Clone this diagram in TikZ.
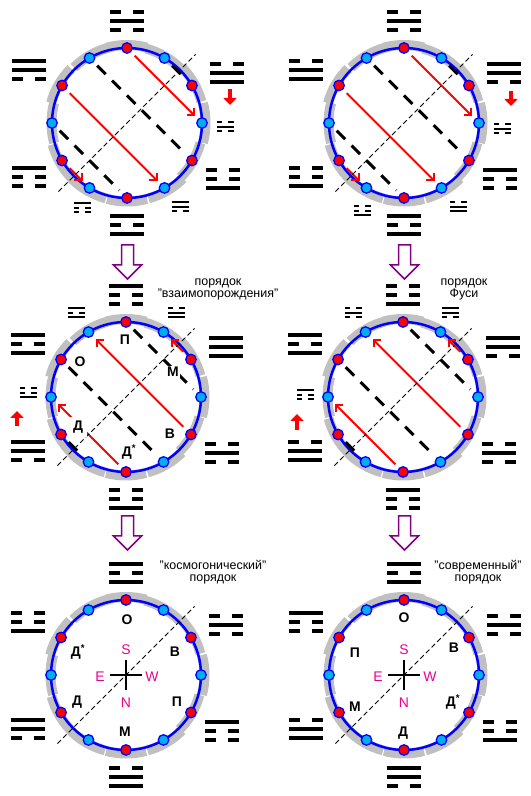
\documentclass[tikz,border=0pt]{standalone}
\usepackage{fontspec}
\setmainfont{Liberation Sans}
\usepackage{xcolor}
\usepackage{tikz}
\usetikzlibrary{arrows.meta,positioning,calc}

\definecolor{ringgray}{RGB}{192,192,192}
\definecolor{hollowpurple}{RGB}{128,0,128}

% trigram, lines from top to bottom: 1 = solid, 0 = broken
\tikzset{
  pics/tri/.style={code={
    \foreach \v [count=\k] in {#1} {
      \pgfmathsetmacro{\yy}{(2-\k)*9}
      \ifnum\v=1
        \fill (-17,\yy-2) rectangle (17,\yy+2);
      \else
        \fill (-17,\yy-2) rectangle (-6,\yy+2);
        \fill (6,\yy-2) rectangle (17,\yy+2);
      \fi
    }
  }},
}

% gray rim, blue circle and the twelve points #10 ... #111
\newcommand{\baguaring}[1]{%
  \foreach \i/\dx/\dy in {0/1.5/0,1/0/1.5,2/-1/0,3/0/1,4/1.5/1,5/-1.5/0,6/1.5/0,7/0/-1.5,8/-1/-1,9/0/-1.5,10/1.5/-1,11/-1/0}
    \draw[rim, shift={(\dx,\dy)}] (30*\i-15:77) arc[start angle=30*\i-15, delta angle=30, radius=77];
  \draw[wheel] (0,0) circle[radius=75];
  \foreach \i in {0,...,11} {
    \ifodd\i
      \node[spot, fill=red] (#1\i) at (30*\i:75) {};
    \else
      \node[spot, fill=cyan] (#1\i) at (30*\i:75) {};
    \fi
  }
  \coordinate (#1sw) at (225:97);
  \coordinate (#1ne) at (45:97);
}

\begin{document}
\begin{tikzpicture}[x=1bp, y=1bp,
  rim/.style={ringgray, line width=10bp},
  wheel/.style={blue, line width=2.5bp},
  spot/.style={circle, draw=blue, line width=1.3bp, minimum size=10.5bp, inner sep=0pt},
  arr/.style={-{Straight Barb[length=5bp, width=10bp]}, red, line width=2bp, shorten <=5bp, shorten >=4bp},
  chord/.style={line width=3bp, dash pattern=on 12bp off 9bp, shorten <=5bp, shorten >=5bp},
  diag/.style={line width=0.8bp, dash pattern=on 5bp off 3bp},
  mover/.style={red, line width=4bp, -{Triangle[length=7bp, width=13bp]}},
  hollow/.style={draw=hollowpurple, line width=1.5bp, fill=white, line join=miter},
  el/.style={font=\fontsize{14}{14}\selectfont\bfseries, fill=white, inner sep=1.5bp},
  wind/.style={font=\fontsize{14}{14}\selectfont, text=magenta, inner sep=0pt},
  note/.style={font=\fontsize{12.5}{12}\selectfont, align=center, inner sep=0pt},
]
\useasboundingbox (0,0) rectangle (531,796);

% top left
\begin{scope}[shift={(127,673)}]
  \baguaring{a}
  \draw[arr] (a3) -- (a0);
  \draw[arr] (a5) -- (a10);
  \draw[arr] (a7) -- (a8);
  \draw[chord] (a2) -- (a1);
  \draw[chord] (a4) -- (a11);
  \draw[chord] (a6) -- (a9);
  \draw[diag] (asw) -- (ane);
  \pic at (0,102) {tri={0,1,0}};
  \pic at (100,50) {tri={0,1,1}};
  \pic at (96,-56) {tri={0,0,1}};
  \pic at (0,-102) {tri={1,0,1}};
  \pic at (-98,-54) {tri={1,0,0}};
  \pic at (-98,53) {tri={1,1,0}};
  \pic[scale=.5] at (98,-4) {tri={0,1,0}};
  \pic[scale=.5] at (53,-84) {tri={1,1,0}};
  \pic[scale=.5] at (-45,-85) {tri={1,0,0}};
  \coordinate (afrom) at (103,34);
  \coordinate (ato) at (103,18);
  \draw[mover] (afrom) -- (ato);
\end{scope}

% top right
\begin{scope}[shift={(404,673)}]
  \baguaring{b}
  \draw[arr] (b3) -- (b0);
  \draw[arr] (b5) -- (b10);
  \draw[arr] (b7) -- (b8);
  \draw[chord] (b2) -- (b1);
  \draw[chord] (b4) -- (b11);
  \draw[chord] (b6) -- (b9);
  \draw[diag] (bsw) -- (bne);
  \pic at (0,102) {tri={0,1,0}};
  \pic at (100,50) {tri={1,1,0}};
  \pic at (96,-56) {tri={1,0,0}};
  \pic at (0,-102) {tri={1,0,1}};
  \pic at (-98,-54) {tri={0,0,1}};
  \pic at (-98,53) {tri={0,1,1}};
  \pic[scale=.5] at (98,-6) {tri={0,1,0}};
  \pic[scale=.5] at (54,-84) {tri={0,1,1}};
  \pic[scale=.5] at (-42,-88) {tri={0,0,1}};
  \coordinate (bfrom) at (107,32);
  \coordinate (bto) at (107,17);
  \draw[mover] (bfrom) -- (bto);
\end{scope}

% middle left
\begin{scope}[shift={(126,399)}]
  \baguaring{c}
  \draw[arr] (c9) -- (c6);
  \draw[arr] (c11) -- (c4);
  \draw[arr] (c1) -- (c2);
  \draw[chord] (c3) -- (c0);
  \draw[chord] (c5) -- (c10);
  \draw[chord] (c7) -- (c8);
  \draw[diag] (csw) -- (cne);
  \pic at (0,102) {tri={1,0,0}};
  \pic at (100,50) {tri={1,1,1}};
  \pic at (96,-56) {tri={0,1,0}};
  \pic at (0,-102) {tri={0,0,1}};
  \pic at (-98,-54) {tri={1,1,0}};
  \pic at (-98,53) {tri={1,0,1}};
  \pic[scale=.5] at (-50,84) {tri={1,0,1}};
  \pic[scale=.5] at (50,84) {tri={0,1,1}};
  \pic[scale=.5] at (-98,4) {tri={0,0,1}};
  \coordinate (cfrom) at (-109,-29);
  \coordinate (cto) at (-109,-14);
  \draw[mover] (cfrom) -- (cto);
  \node[el] (cp) at (-1,57) {П};
  \node[el] (co) at (-46,35) {О};
  \node[el] (cm) at (47,25) {М};
  \node[el, inner sep=4bp] (cd) at (-48,-30) {Д};
  \node[el] (cv) at (44,-37) {В};
  \node[el] (cdd) at (3,-55) {Д\textsuperscript{*}};
\end{scope}

% middle right
\begin{scope}[shift={(403,399)}]
  \baguaring{d}
  \draw[arr] (d9) -- (d6);
  \draw[arr] (d11) -- (d4);
  \draw[arr] (d1) -- (d2);
  \draw[chord] (d3) -- (d0);
  \draw[chord] (d5) -- (d10);
  \draw[chord] (d7) -- (d8);
  \draw[diag] (dsw) -- (dne);
  \pic at (0,102) {tri={0,0,1}};
  \pic at (100,50) {tri={1,1,0}};
  \pic at (96,-56) {tri={0,1,0}};
  \pic at (0,-102) {tri={1,0,0}};
  \pic at (-98,-54) {tri={0,1,1}};
  \pic at (-98,53) {tri={1,0,1}};
  \pic[scale=.5] at (-50,84) {tri={0,1,0}};
  \pic[scale=.5] at (47,84) {tri={1,1,0}};
  \pic[scale=.5] at (-98,2) {tri={1,0,0}};
  \coordinate (dfrom) at (-106,-33);
  \coordinate (dto) at (-106,-17);
  \draw[mover] (dfrom) -- (dto);
\end{scope}

% bottom left
\begin{scope}[shift={(126,121)}]
  \baguaring{e}
  \draw[diag] (esw) -- (ene);
  \draw[line width=2bp] (-16,0) -- (16,0) (0,-15) -- (0,15);
  \node[wind] (es) at (0,25) {S};
  \node[wind] (en) at (0,-28) {N};
  \node[wind] (ee) at (-26,-2) {E};
  \node[wind] (ew) at (26,-2) {W};
  \pic at (0,102) {tri={1,0,1}};
  \pic at (100,50) {tri={0,1,0}};
  \pic at (96,-56) {tri={1,0,0}};
  \pic at (0,-102) {tri={0,1,1}};
  \pic at (-98,-54) {tri={1,1,0}};
  \pic at (-98,53) {tri={0,0,1}};
  \node[el] (eo) at (1,55) {О};
  \node[el] (ev) at (49,23) {В};
  \node[el] (ep) at (51,-27) {П};
  \node[el] (em) at (-1,-57) {М};
  \node[el] (ed) at (-49,-27) {Д};
  \node[el] (edd) at (-48,23) {Д\textsuperscript{*}};
\end{scope}

% bottom right
\begin{scope}[shift={(404,121)}]
  \baguaring{f}
  \draw[diag] (fsw) -- (fne);
  \draw[line width=2bp] (-16,0) -- (16,0) (0,-15) -- (0,15);
  \node[wind] (fs) at (0,25) {S};
  \node[wind] (fn) at (0,-28) {N};
  \node[wind] (fe) at (-26,-2) {E};
  \node[wind] (fw) at (26,-2) {W};
  \pic at (0,102) {tri={1,0,1}};
  \pic at (100,50) {tri={0,1,0}};
  \pic at (96,-56) {tri={0,0,1}};
  \pic at (0,-102) {tri={1,1,0}};
  \pic at (-98,-54) {tri={0,1,1}};
  \pic at (-98,53) {tri={1,0,0}};
  \node[el] (fo) at (0,57) {О};
  \node[el] (fv) at (50,27) {В};
  \node[el] (fdd) at (49,-27) {Д\textsuperscript{*}};
  \node[el] (fd) at (-1,-58) {Д};
  \node[el] (fm) at (-49,-32) {М};
  \node[el] (fp) at (-49,22) {П};
\end{scope}

% hollow arrows between the rows
\foreach \c/\t in {127.5/551, 404.5/551, 127.5/280, 404.5/280}
  \draw[hollow] (\c-6,\t) -- (\c+6,\t) -- (\c+6,\t-20) -- (\c+14,\t-20)
    -- (\c,\t-34) -- (\c-14,\t-20) -- (\c-6,\t-20) -- cycle;

\node[note] (ordmutual) at (218,507) {порядок\\"взаимопорождения"};
\node[note] (ordfuxi) at (464,507) {порядок\\Фуси};
\node[note] (ordcosmo) at (213,223.5) {"космогонический"\\порядок};
\node[note] (ordmodern) at (478,223.5) {"современный"\\порядок};
\end{tikzpicture}
\end{document}
